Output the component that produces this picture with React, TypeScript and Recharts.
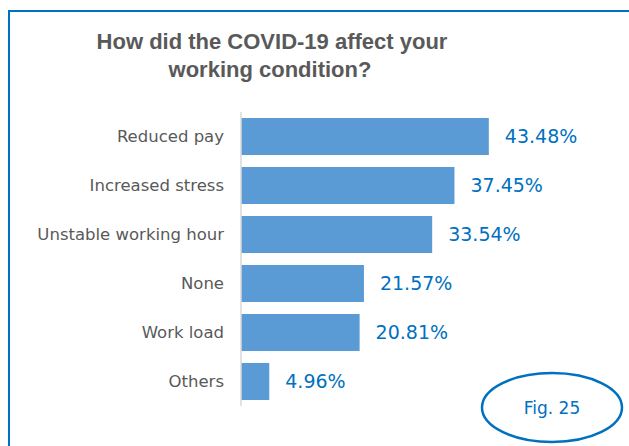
import React from "react";
import { BarChart, Bar, XAxis, YAxis, LabelList } from "recharts";

const categories = [
  "Reduced pay",
  "Increased stress",
  "Unstable working hour",
  "None",
  "Work load",
  "Others",
];
const percentages = [43.48, 37.45, 33.54, 21.57, 20.81, 4.96];
const titleLines = ["How did the COVID-19 affect your", "working condition?"];
const figLabel = "Fig. 25";

const data = categories.map((name, i) => ({ name, value: percentages[i] }));

const W = 629;
const H = 446;

export default function App() {
  return (
    <div style={{ position: "absolute", left: 0, top: 0, width: W, height: H, background: "#fff" }}>
      <BarChart
        width={W}
        height={H}
        data={data}
        layout="vertical"
        margin={{ top: 112, right: 103, bottom: 40, left: 0 }}
        barCategoryGap="12%"
      >
        <XAxis type="number" domain={[0, 50]} hide />
        <YAxis
          type="category"
          dataKey="name"
          width={241}
          tickLine={false}
          axisLine={{ stroke: "#d9d9d9", strokeWidth: 1.5 }}
          tick={{ fill: "#595959", fontSize: 16.5, fontFamily: "DejaVu Sans" }}
          tickMargin={11}
        />
        <Bar dataKey="value" fill="#5b9bd5" isAnimationActive={false}>
          <LabelList
            dataKey="value"
            position="right"
            offset={16}
            formatter={(v: number) => `${v.toFixed(2)}%`}
            fill="#0070c0"
            fontSize={19}
            fontFamily="DejaVu Sans"
          />
        </Bar>
      </BarChart>
      <svg
        width={W}
        height={H}
        style={{ position: "absolute", left: 0, top: 0, pointerEvents: "none" }}
      >
        <rect x={9} y={11} width={W} height={H} fill="none" stroke="#0070c0" strokeWidth={2} />
        <text
          x={272}
          textAnchor="middle"
          fill="#595959"
          fontFamily="Liberation Sans"
          fontWeight="bold"
          fontSize={22}
        >
          <tspan x={272} y={49}>{titleLines[0]}</tspan>
          <tspan x={270} y={77}>{titleLines[1]}</tspan>
        </text>
        <ellipse cx={552} cy={407.5} rx={70} ry={34.5} fill="#fff" stroke="#0070c0" strokeWidth={2.5} />
        <text
          x={552}
          y={414}
          textAnchor="middle"
          fill="#0070c0"
          fontFamily="DejaVu Sans"
          fontSize={17}
        >
          {figLabel}
        </text>
      </svg>
    </div>
  );
}
